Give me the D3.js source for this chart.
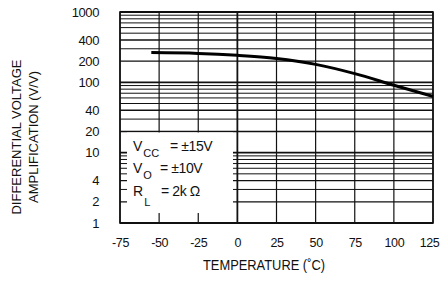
<!DOCTYPE html>
<html>
<head>
<meta charset="utf-8">
<script src="https://cdn.jsdelivr.net/npm/d3@7"></script>
<style>
  body { margin: 0; background: #fff; }
  svg { display: block; font-family: "Liberation Sans", Arial, Helvetica, sans-serif; }
</style>
</head>
<body>
<svg id="chart" width="440" height="282"></svg>
<script>
// Data
const temps = [-55, -25, 0, 25, 50, 75, 100, 125];
const gains = [265, 258, 242, 218, 180, 133, 91, 63];
const xTicks = [-75, -50, -25, 0, 25, 50, 75, 100, 125];
const yTicks = [1, 2, 4, 10, 20, 40, 100, 200, 400, 1000];

const svg = d3.select("#chart");
const plotL = 120, plotR = 433, plotT = 12, plotB = 223;

const x = d3.scaleLinear().domain([-75, 125]).range([plotL, plotR]);
const y = d3.scaleLog().domain([1, 1000]).range([plotB, plotT]);

// Horizontal log grid (all minor + decade lines)
const gridVals = y.ticks();
svg.append("g")
  .selectAll("line")
  .data(gridVals)
  .enter()
  .append("line")
  .attr("x1", plotL)
  .attr("x2", plotR)
  .attr("y1", d => y(d))
  .attr("y2", d => y(d))
  .attr("stroke", "#111")
  .attr("stroke-width", d => {
    const m = d / Math.pow(10, Math.floor(Math.log10(d) + 1e-9));
    if (Math.abs(m - 1) < 1e-6) return 1.8;
    if (Math.abs(m - 2) < 1e-6 || Math.abs(m - 4) < 1e-6) return 1.4;
    return 1;
  });

// Vertical grid
svg.append("g")
  .selectAll("line")
  .data(xTicks)
  .enter()
  .append("line")
  .attr("x1", d => x(d))
  .attr("x2", d => x(d))
  .attr("y1", plotT)
  .attr("y2", plotB)
  .attr("stroke", "#111")
  .attr("stroke-width", d => d === 0 ? 1.8 : 1.2);

// Legend box masks the grid, leaving tick stubs
svg.append("rect")
  .attr("x", plotL + 7)
  .attr("y", y(20) + 1)
  .attr("width", 233 - (plotL + 7))
  .attr("height", (plotB - 10) - (y(20) + 1))
  .attr("fill", "#fff");

// Frame
svg.append("rect")
  .attr("x", plotL)
  .attr("y", plotT)
  .attr("width", plotR - plotL)
  .attr("height", plotB - plotT)
  .attr("fill", "none")
  .attr("stroke", "#111")
  .attr("stroke-width", 1.6);

// Curve
const line = d3.line()
  .x((d, i) => x(temps[i]))
  .y(d => y(d))
  .curve(d3.curveMonotoneX);

svg.append("path")
  .datum(gains)
  .attr("fill", "none")
  .attr("stroke", "#000")
  .attr("stroke-width", 3)
  .attr("d", line);

// Axes (labels only)
const yAxis = svg.append("g")
  .attr("transform", `translate(${plotL},0)`)
  .call(d3.axisLeft(y).tickValues(yTicks).tickFormat(d => String(d)).tickSize(0).tickPadding(21));
yAxis.select(".domain").remove();
yAxis.selectAll("text")
  .style("font-size", "13px")
  .style("letter-spacing", "-0.4px")
  .attr("fill", "#111");

const xAxis = svg.append("g")
  .attr("transform", `translate(0,${plotB})`)
  .call(d3.axisBottom(x).tickValues(xTicks).tickFormat(d => String(d)).tickSize(0).tickPadding(15));
xAxis.select(".domain").remove();
xAxis.selectAll("text")
  .style("font-size", "12.5px")
  .style("letter-spacing", "-0.4px")
  .attr("fill", "#111")
  .attr("dx", d => d === 125 ? -4 : 0);

// Axis titles
svg.append("text")
  .attr("x", 264)
  .attr("y", 270)
  .attr("text-anchor", "middle")
  .attr("textLength", 122)
  .attr("lengthAdjust", "spacingAndGlyphs")
  .style("font-size", "14px")
  .attr("fill", "#111")
  .text("TEMPERATURE (˚C)");

const yTitle = svg.append("text")
  .attr("transform", "translate(0,137) rotate(-90)")
  .attr("text-anchor", "middle")
  .style("font-size", "13px")
  .attr("fill", "#111");
yTitle.append("tspan").attr("x", 0).attr("y", 21).text("DIFFERENTIAL VOLTAGE");
yTitle.append("tspan").attr("x", 0).attr("y", 38).text("AMPLIFICATION (V/V)");

// Conditions text inside the box
const cond = [
  { main: "V", sub: "CC", rest: "= ±15V", y: 151, restX: 170 },
  { main: "V", sub: "O", rest: "= ±10V", y: 173, restX: 160 },
  { main: "R", sub: "L", rest: "= 2k Ω", y: 196, restX: 161 }
];
cond.forEach(c => {
  const t = svg.append("text")
    .attr("fill", "#111")
    .style("font-size", "14px");
  t.append("tspan").attr("x", 133).attr("y", c.y).text(c.main);
  t.append("tspan").attr("dx", 1).attr("dy", c.sub === "L" ? 10 : 6).style("font-size", "11px").text(c.sub);
  svg.append("text")
    .attr("x", c.restX)
    .attr("y", c.y)
    .attr("fill", "#111")
    .style("font-size", "14px")
    .style("letter-spacing", "-0.4px")
    .text(c.rest);
});
</script>
</body>
</html>
